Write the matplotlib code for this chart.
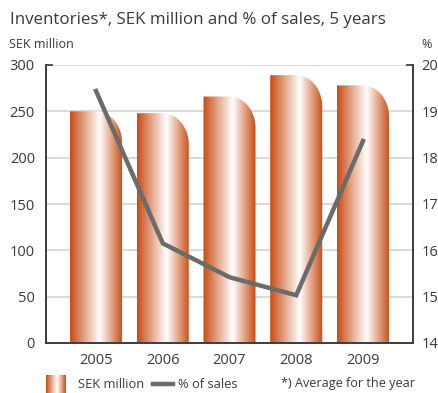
import numpy as np
import matplotlib
matplotlib.use("Agg")
import matplotlib.pyplot as plt
from matplotlib.path import Path
from matplotlib.patches import PathPatch
from matplotlib.colors import LinearSegmentedColormap

years = ["2005", "2006", "2007", "2008", "2009"]
inventories = [250, 248, 266, 289, 278]
pct_of_sales = [19.44, 16.15, 15.42, 15.03, 18.36]

plt.rcParams["font.family"] = ["Open Sans", "DejaVu Sans"]
text_col = "#3a3a3a"

# orange -> white -> orange, white a little right of the middle
bar_cmap = LinearSegmentedColormap.from_list(
    "copper_bar", [(0.0, "#c84c14"), (0.56, "#ffffff"), (1.0, "#c84c14")])
grad = np.linspace(0, 1, 256).reshape(1, -1)


def rounded_bar(ax, x0, x1, h, rx, ry):
    # flat top on the left, elliptical corner on the top right
    xc = x1 - rx
    t = np.linspace(np.pi / 2, 0, 30)
    arc = np.column_stack([xc + rx * np.cos(t), (h - ry) + ry * np.sin(t)])
    verts = [(x0, 0), (x0, h)] + [tuple(p) for p in arc] + [(x1, 0), (x0, 0)]
    codes = [Path.MOVETO] + [Path.LINETO] * (len(verts) - 2) + [Path.CLOSEPOLY]
    patch = PathPatch(Path(verts, codes), facecolor="none", edgecolor="none",
                      transform=ax.transData)
    ax.add_patch(patch)
    im = ax.imshow(grad, cmap=bar_cmap, aspect="auto", extent=[x0, x1, 0, h],
                   interpolation="bilinear", zorder=2)
    im.set_clip_path(patch)


fig = plt.figure(figsize=(4.38, 3.93), dpi=100)
ax = fig.add_axes([46 / 438, 1 - 343 / 393, 367 / 438, 278 / 393])

width = 0.78
for i, v in enumerate(inventories):
    rounded_bar(ax, i - width / 2, i + width / 2, v, 0.39, 34)

ax.set_xlim(-0.75, 4.75)
ax.set_ylim(0, 300)
ax.set_yticks(range(0, 301, 50))
ax.set_xticks(range(len(years)))
ax.set_xticklabels(years)
for y in range(50, 301, 50):
    ax.axhline(y, color="#d4d4ce", lw=1.2, zorder=1)

for s in ["top"]:
    ax.spines[s].set_visible(False)
for s in ["left", "bottom", "right"]:
    ax.spines[s].set_color("#404040")
    ax.spines[s].set_linewidth(1.3)
ax.tick_params(axis="x", length=0, pad=7, labelsize=10.5, colors=text_col)
ax.tick_params(axis="y", length=0, pad=8, labelsize=10.5, colors=text_col)

ax2 = ax.twinx()
ax2.set_ylim(14, 20)
ax2.set_yticks(range(14, 21))
ax2.spines["top"].set_visible(False)
for s in ["left", "bottom", "right"]:
    ax2.spines[s].set_color("#404040")
    ax2.spines[s].set_linewidth(1.3)
ax2.tick_params(axis="y", length=0, pad=6, labelsize=10.5, colors=text_col)
ax2.plot(range(len(years)), pct_of_sales, color="#6b6b69", lw=3.2,
         solid_joinstyle="miter", zorder=5)

# short caps at the top of both vertical axes
ax.plot([-0.75, -0.66], [300, 300], color="#404040", lw=1.3, clip_on=False)
ax.plot([4.66, 4.75], [300, 300], color="#404040", lw=1.3, clip_on=False)

fig.text(10 / 438, 1 - 20 / 393, "Inventories*, SEK million and % of sales, 5 years",
         fontsize=12.2, color=text_col, va="center")
fig.text(9 / 438, 1 - 44 / 393, "SEK million", fontsize=9, color=text_col, va="center")
fig.text(421 / 438, 1 - 44 / 393, "%", fontsize=9, color=text_col, va="center")

# legend row
lax = fig.add_axes([46 / 438, 0, 20 / 438, 18 / 393])
lax.imshow(grad, cmap=bar_cmap, aspect="auto", interpolation="bilinear")
lax.axis("off")
fig.text(78 / 438, 1 - 384 / 393, "SEK million", fontsize=9.3, color=text_col, va="center")
fig.add_artist(plt.Line2D([153 / 438, 173 / 438], [1 - 384 / 393] * 2,
                          color="#6b6b69", lw=3.2))
fig.text(178 / 438, 1 - 384 / 393, "% of sales", fontsize=9.3, color=text_col, va="center")
fig.text(281 / 438, 1 - 384 / 393, "*) Average for the year", fontsize=9.1,
         color=text_col, va="center")

fig.savefig("out.png", dpi=100)
